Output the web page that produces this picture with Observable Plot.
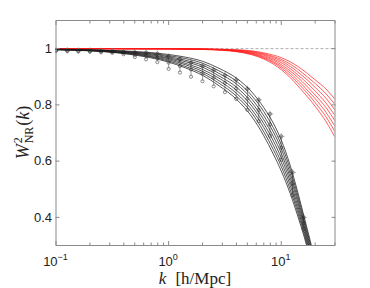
<!DOCTYPE html>
<html>
<head>
<meta charset="utf-8">
<script src="https://cdn.jsdelivr.net/npm/d3@7"></script>
<script src="https://cdn.jsdelivr.net/npm/@observablehq/plot@0.6"></script>
<style>
  html, body { margin: 0; padding: 0; background: #fff; }
  #chart { width: 370px; height: 288px; }
</style>
</head>
<body>
<div id="chart"></div>
<script>
// ---- data ----
const kGrid = [0.1, 0.2, 0.35, 0.5, 0.7, 1, 1.4, 2, 2.8, 4, 5.5, 7, 8.5, 10, 12, 14, 16, 18, 20];
const black0 = [0.996,0.992,0.985,0.977,0.967,0.952,0.932,0.905,0.868,0.820,0.757,0.690,0.625,0.565,0.485,0.405,0.330,0.255,0.190];
const black1 = [0.996,0.993,0.986,0.979,0.970,0.956,0.937,0.912,0.877,0.831,0.770,0.704,0.641,0.581,0.499,0.417,0.340,0.264,0.198];
const black2 = [0.997,0.993,0.987,0.981,0.972,0.960,0.943,0.919,0.886,0.841,0.782,0.719,0.656,0.596,0.514,0.429,0.350,0.274,0.206];
const black3 = [0.997,0.994,0.988,0.983,0.975,0.964,0.948,0.926,0.895,0.852,0.795,0.733,0.672,0.612,0.528,0.441,0.360,0.283,0.214];
const black4 = [0.997,0.994,0.990,0.984,0.978,0.967,0.954,0.934,0.903,0.863,0.807,0.747,0.688,0.628,0.542,0.454,0.370,0.292,0.221];
const black5 = [0.997,0.995,0.991,0.986,0.981,0.971,0.959,0.941,0.912,0.874,0.820,0.761,0.704,0.644,0.556,0.466,0.380,0.301,0.229];
const black6 = [0.998,0.995,0.992,0.988,0.983,0.975,0.965,0.948,0.921,0.884,0.832,0.776,0.719,0.659,0.571,0.478,0.390,0.311,0.237];
const black7 = [0.998,0.996,0.993,0.990,0.986,0.979,0.970,0.955,0.930,0.895,0.845,0.790,0.735,0.675,0.585,0.490,0.400,0.320,0.245];

const kRed = [0.1, 1, 2, 3, 4, 5.5, 7, 8.5, 10, 12, 14, 17, 20, 25, 30];
const red0 = [1,0.999,0.997,0.994,0.989,0.978,0.963,0.945,0.925,0.897,0.868,0.830,0.795,0.740,0.685];
const red1 = [1,0.999,0.997,0.995,0.990,0.980,0.966,0.950,0.931,0.905,0.878,0.842,0.808,0.757,0.704];
const red2 = [1,0.999,0.998,0.995,0.991,0.982,0.969,0.954,0.937,0.913,0.888,0.853,0.822,0.773,0.724];
const red3 = [1,0.999,0.998,0.996,0.992,0.984,0.972,0.959,0.943,0.921,0.898,0.865,0.835,0.790,0.743];
const red4 = [1,1,0.998,0.996,0.993,0.986,0.976,0.963,0.950,0.929,0.907,0.877,0.849,0.806,0.762];
const red5 = [1,1,0.998,0.997,0.994,0.988,0.979,0.968,0.956,0.937,0.917,0.889,0.862,0.823,0.781];
const red6 = [1,1,0.999,0.997,0.995,0.990,0.982,0.972,0.962,0.945,0.927,0.900,0.876,0.839,0.801];
const red7 = [1,1,0.999,0.998,0.996,0.992,0.985,0.977,0.968,0.953,0.937,0.912,0.889,0.856,0.820];

const dataK   = [0.1,0.126,0.158,0.2,0.251,0.316,0.398,0.501,0.631,0.794,1,1.26,1.58,2,2.51,3.16,3.98,5.01,6.31,7.94,10,12.6,15.8];
const dataLo  = [0.992,0.991,0.990,0.989,0.987,0.985,0.980,0.970,0.962,0.952,0.928,0.915,0.900,0.884,0.866,0.845,0.821,0.782,0.742,0.690,0.605,0.478,0.360];
const dataMid = [0.993,0.993,0.992,0.991,0.990,0.988,0.985,0.978,0.974,0.967,0.950,0.938,0.926,0.912,0.897,0.878,0.858,0.822,0.782,0.730,0.648,0.519,0.380];
const dataHi  = [0.994,0.994,0.993,0.993,0.992,0.991,0.990,0.987,0.986,0.982,0.972,0.962,0.950,0.938,0.924,0.905,0.889,0.857,0.818,0.768,0.688,0.560,0.400];

const xMajor = [0.1, 1, 10];
const xMajorExp = ["\u22121", "0", "1"];
const xMinor = [0.2,0.3,0.4,0.5,0.6,0.7,0.8,0.9,2,3,4,5,6,7,8,9,20,30];
const yTicks = [0.4, 0.6, 0.8, 1];
const yTickLabels = ["0.4", "0.6", "0.8", "1"];

// ---- tables ----
const blackSeries = [black0, black1, black2, black3, black4, black5, black6, black7];
const redSeries = [red0, red1, red2, red3, red4, red5, red6, red7];
const blackRows = blackSeries.flatMap((vals, i) => kGrid.map((k, j) => ({k, v: vals[j], s: i})));
const redRows = redSeries.flatMap((vals, i) => kRed.map((k, j) => ({k, v: vals[j], s: i})));
const pts = dataK.map((k, i) => ({k, lo: dataLo[i], mid: dataMid[i], hi: dataHi[i]}));
const circ = pts.flatMap(d => [{k: d.k, v: d.lo}, {k: d.k, v: d.mid}, {k: d.k, v: d.hi}]);

const tickColor = "#8a8a8a";
const font = "Liberation Sans, Arial, sans-serif";

const plot = Plot.plot({
  width: 370,
  height: 288,
  marginLeft: 55.5,
  marginRight: 35.5,
  marginTop: 20,
  marginBottom: 43,
  style: {fontFamily: font, fontSize: "13px", background: "#fff", color: "#222"},
  x: {type: "log", domain: [0.1, 30], label: null},
  y: {domain: [0.3, 1.1], label: null},
  marks: [
    Plot.ruleY([1], {stroke: "#9a9a9a", strokeWidth: 0.8, strokeDasharray: "3,2"}),
    Plot.line(redRows, {x: "k", y: "v", z: "s", stroke: "#ff1a1a", strokeWidth: 0.7, curve: "monotone-x", clip: true}),
    Plot.ruleX(pts, {x: "k", y1: "lo", y2: "hi", stroke: "#777", strokeWidth: 0.7, clip: true}),
    Plot.dot(circ, {x: "k", y: "v", r: 1.6, stroke: "#666", strokeWidth: 0.75, fill: "none", clip: true}),
    Plot.dot(pts, {x: "k", y: "hi", symbol: "plus", r: 2.2, stroke: "#777", strokeWidth: 0.6, clip: true}),
    Plot.line(blackRows, {x: "k", y: "v", z: "s", stroke: "#1e1e1e", strokeWidth: 0.75, curve: "monotone-x", clip: true}),
    // ticks (inward)
    Plot.axisX({anchor: "bottom", ticks: xMajor, tickSize: -4, tickFormat: () => "", stroke: tickColor, label: null}),
    Plot.axisX({anchor: "bottom", ticks: xMinor, tickSize: -2.5, tickFormat: () => "", stroke: tickColor, label: null}),
    Plot.axisX({anchor: "top", ticks: xMajor, tickSize: -4, tickFormat: () => "", stroke: tickColor, label: null}),
    Plot.axisX({anchor: "top", ticks: xMinor, tickSize: -2.5, tickFormat: () => "", stroke: tickColor, label: null}),
    Plot.axisY({anchor: "left", ticks: yTicks, tickSize: -4, tickFormat: () => "", stroke: tickColor, label: null}),
    Plot.axisY({anchor: "right", ticks: yTicks, tickSize: -4, tickFormat: () => "", stroke: tickColor, label: null}),
    Plot.axisY({anchor: "left", ticks: yTicks, tickSize: 0, tickPadding: 4, tickFormat: (d, i) => yTickLabels[i], fill: "#222", fontSize: 13, label: null}),
    Plot.frame({stroke: tickColor, strokeWidth: 1})
  ]
});

document.getElementById("chart").appendChild(plot);

// x tick labels with superscript exponents, placed with the plot's x scale
const svg = d3.select(plot.tagName.toLowerCase() === "svg" ? plot : plot.querySelector("svg"));
const xs = plot.scale("x");
xMajor.forEach((k, i) => {
  const t = svg.append("text")
    .attr("x", xs.apply(k))
    .attr("y", 266)
    .attr("text-anchor", "middle")
    .attr("font-family", font)
    .attr("font-size", 13)
    .attr("fill", "#222");
  t.append("tspan").text("10");
  t.append("tspan").attr("font-size", 9).attr("dy", -6).text(xMajorExp[i]);
});

// x axis label
const xl = svg.append("text")
  .attr("x", 195)
  .attr("y", 284)
  .attr("text-anchor", "middle")
  .attr("font-family", "Liberation Serif, DejaVu Serif, serif")
  .attr("font-size", 17)
  .attr("fill", "#222");
xl.append("tspan").attr("font-style", "italic").text("k");
xl.append("tspan").attr("dx", 9).text("[h/Mpc]");

// y axis label
const yl = svg.append("text")
  .attr("transform", "translate(29,132.5) rotate(-90)")
  .attr("text-anchor", "middle")
  .attr("font-family", "Liberation Serif, DejaVu Serif, serif")
  .attr("font-size", 18)
  .attr("fill", "#222");
yl.append("tspan").attr("font-style", "italic").text("W");
yl.append("tspan").attr("font-size", 12).attr("dy", -7).attr("dx", 1).text("2");
yl.append("tspan").attr("font-size", 12).attr("dy", 11).attr("dx", -6).text("NR");
yl.append("tspan").attr("dy", -4).attr("dx", 1).text("(");
yl.append("tspan").attr("font-style", "italic").text("k");
yl.append("tspan").text(")");
</script>
</body>
</html>
